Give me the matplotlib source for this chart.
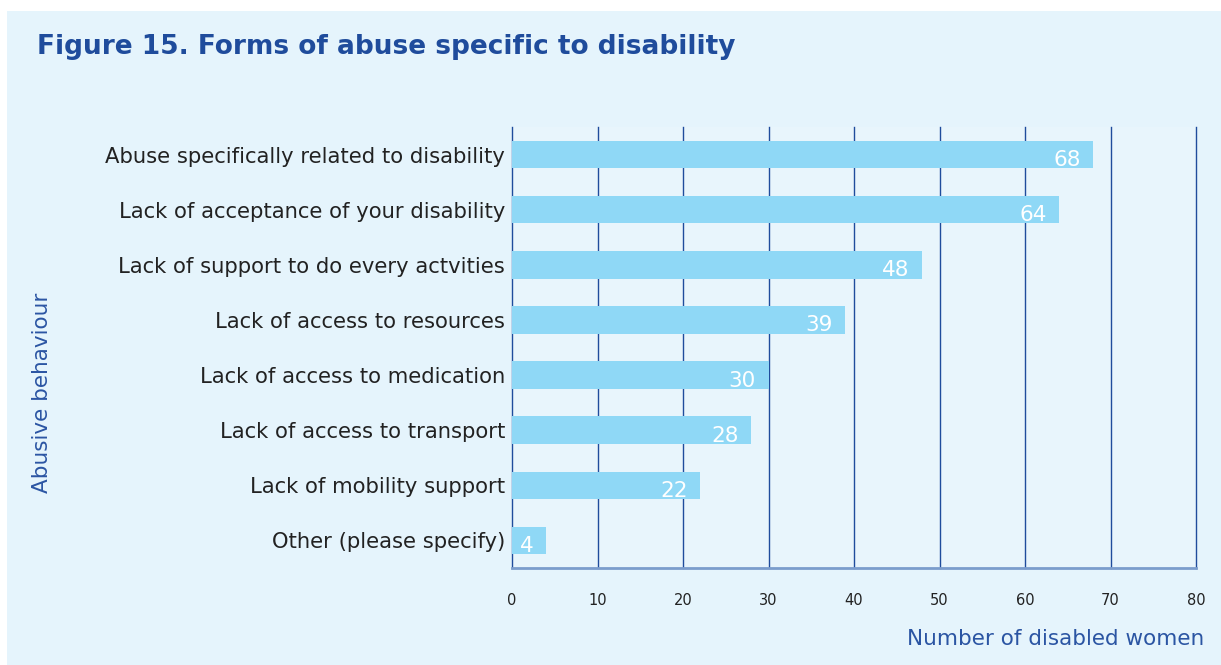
import numpy as np
import matplotlib.pyplot as plt
from matplotlib.patches import Rectangle

# categories and counts (top to bottom)
categories = ['Abuse specifically related to disability',
              'Lack of acceptance of your disability',
              'Lack of support to do every actvities',
              'Lack of access to resources',
              'Lack of access to medication',
              'Lack of access to transport',
              'Lack of mobility support',
              'Other (please specify)']
counts = [68, 64, 48, 39, 30, 28, 22, 4]
xticks = [0, 10, 20, 30, 40, 50, 60, 70, 80]

bg = '#e5f4fc'
navy = '#1f4c9c'
bar_col = '#8fd8f6'

plt.rcParams['font.family'] = ['DejaVu Sans']

fig = plt.figure(figsize=(12.21, 6.65), dpi=100)
fig.patch.set_facecolor('white')
# light blue panel behind everything
fig.patches.append(Rectangle((7/1221, 0), 1, 1 - 11/665, transform=fig.transFigure,
                             facecolor=bg, edgecolor='none', zorder=-10))

ax = fig.add_axes([512/1221, 97/665, 684/1221, 441/665])
ax.set_facecolor('#e8f5fc')

y = np.arange(len(categories))
ax.barh(y, counts, height=0.5, color=bar_col, zorder=3)

for yi, v in zip(y, counts):
    ax.annotate(str(v), (v, yi), xytext=(-9, -4), textcoords='offset points',
                ha='right', va='center', color='white', fontsize=15.5, zorder=4)

ax.set_xlim(0, 80)
ax.set_ylim(len(categories) - 0.5, -0.5)
ax.set_xticks(xticks)
ax.set_yticks(y)
ax.set_yticklabels(categories, fontsize=15.2, color='#222222')
ax.tick_params(axis='y', length=0, pad=5)
ax.tick_params(axis='x', length=0, pad=18, labelsize=10.5, labelcolor='#222222')

for xv in xticks:
    ax.axvline(xv, color=navy, lw=1, zorder=1, clip_on=False)
for s in ['top', 'right', 'left']:
    ax.spines[s].set_visible(False)
ax.spines['bottom'].set_color('#7b9dcc')
ax.spines['bottom'].set_linewidth(2)

fig.text(37/1221, 1 - 47/665, 'Figure 15. Forms of abuse specific to disability',
         fontsize=19, fontweight='bold', color=navy, va='center', ha='left')
fig.text(1204/1221, 1 - 639/665, 'Number of disabled women',
         fontsize=15.5, color='#2b55a3', va='center', ha='right')
fig.text(42/1221, 1 - 393/665, 'Abusive behaviour', rotation=90,
         fontsize=15.5, color='#2b55a3', va='center', ha='center')

fig.savefig('out.png', dpi=100, facecolor=fig.get_facecolor())
